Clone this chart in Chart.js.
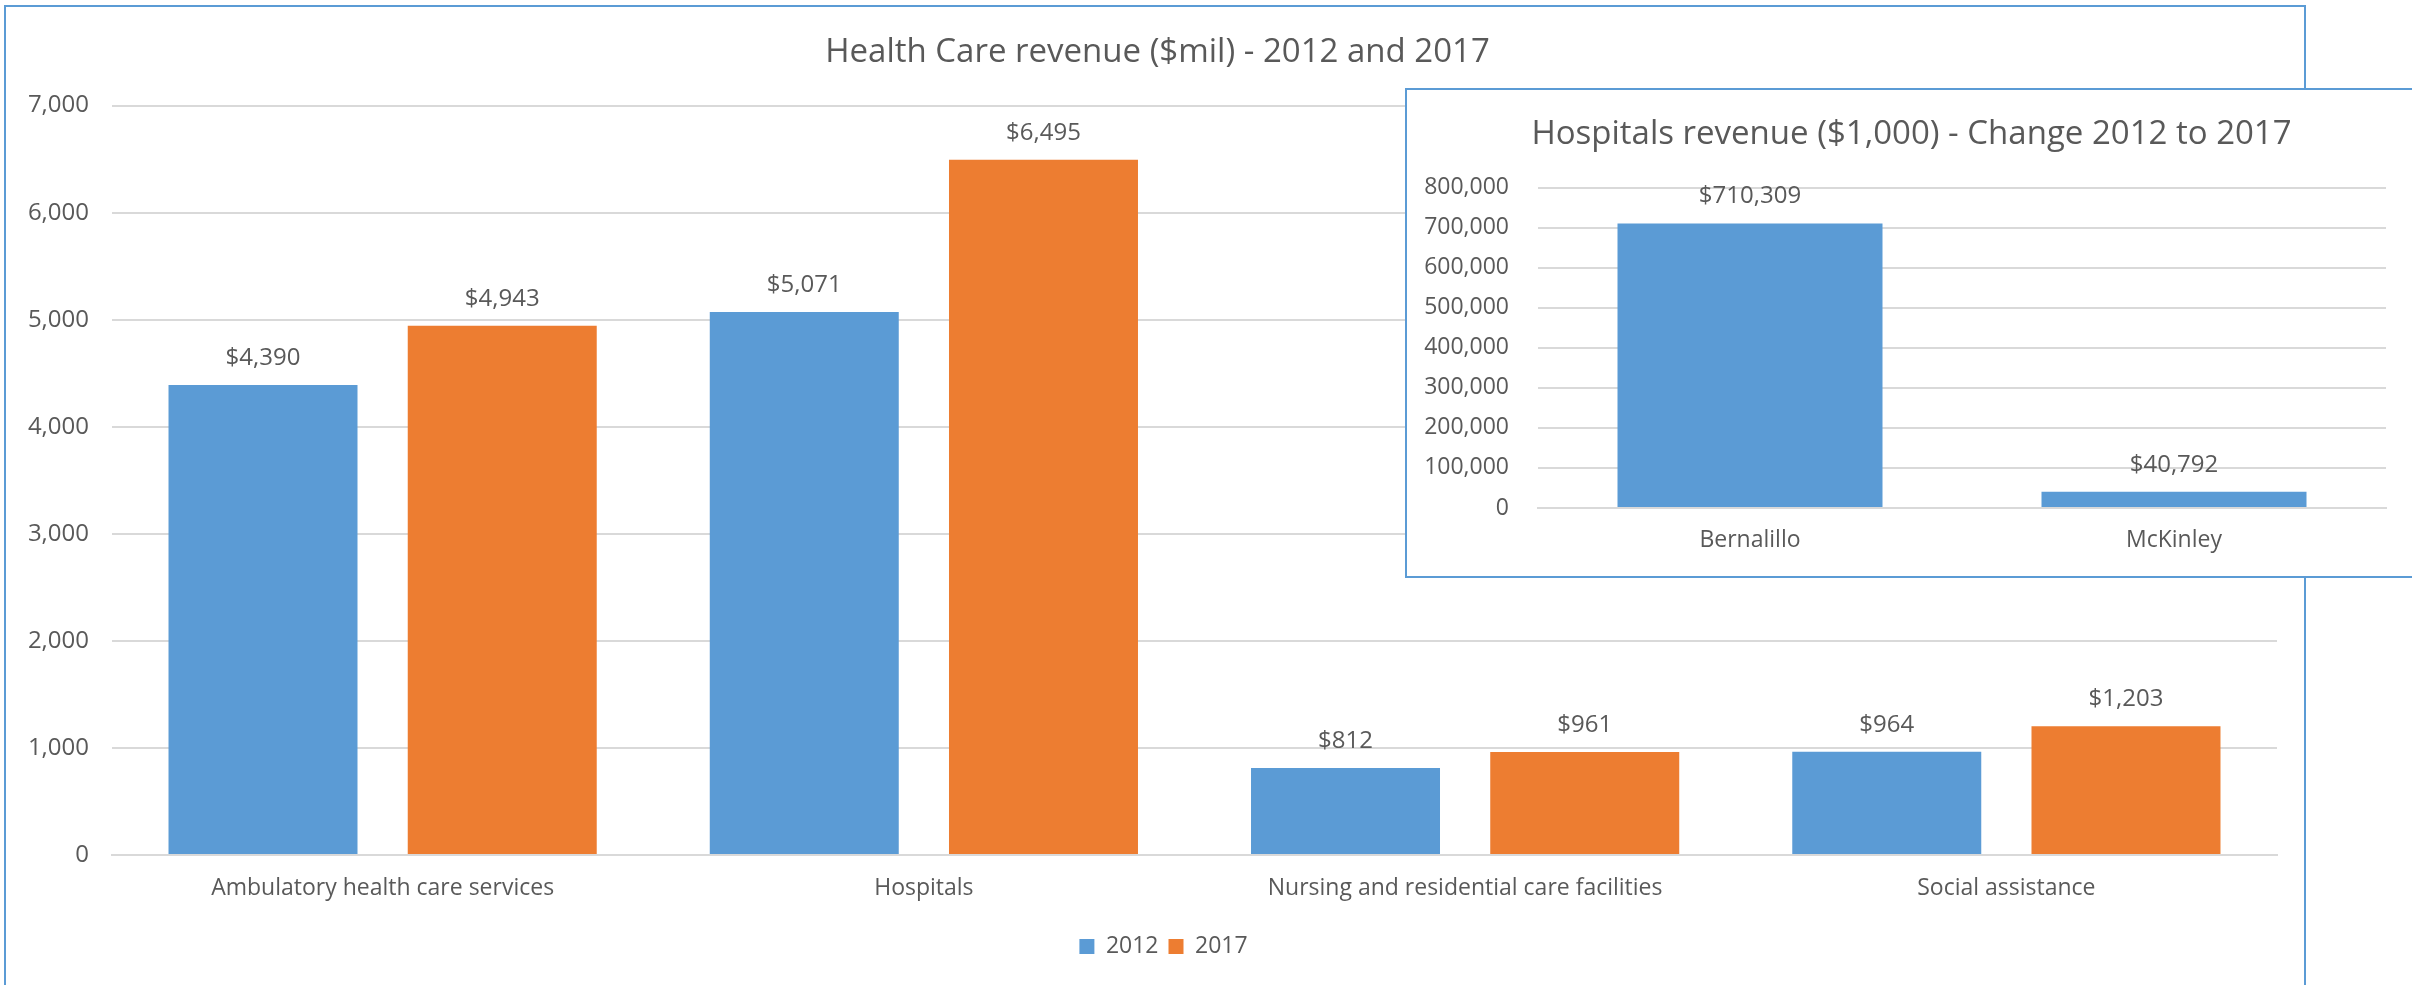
<!DOCTYPE html>
<html>
<head>
<meta charset="utf-8">
<script src="https://cdn.jsdelivr.net/npm/chart.js@4.4.1/dist/chart.umd.min.js"></script>
<style>
  html, body { margin: 0; padding: 0; background: #fff; overflow: hidden; }
  body { width: 2412px; height: 985px; position: relative; }
  #main { position: absolute; left: 4px; top: 5px; width: 2302px; height: 1000px; border: 2px solid #5b9bd5; box-sizing: border-box; }
  #inset { position: absolute; left: 1405px; top: 88px; width: 1020px; height: 490px; border: 2px solid #5b9bd5; background: #fff; box-sizing: border-box; }
  canvas { display: block; }
</style>
</head>
<body>
<div id="main"><canvas id="mainChart" width="2298" height="980"></canvas></div>
<div id="inset"><canvas id="insetChart" width="1016" height="486"></canvas></div>
<script>
const categories = ["Ambulatory health care services", "Hospitals", "Nursing and residential care facilities", "Social assistance"];
const revenue2012 = [4390, 5071, 812, 964];
const revenue2017 = [4943, 6495, 961, 1203];
const mainTicks = [0, 1000, 2000, 3000, 4000, 5000, 6000, 7000];

const counties = ["Bernalillo", "McKinley"];
const hospitalChange = [710309, 40792];
const insetTicks = [0, 100000, 200000, 300000, 400000, 500000, 600000, 700000, 800000];

const blue = "#5b9bd5";
const orange = "#ed7d31";
const textGrey = "#595959";
const gridGrey = "#d9d9d9";
const fontFamily = "'Open Sans', 'Liberation Sans', sans-serif";

Chart.defaults.font.family = fontFamily;
Chart.defaults.color = textGrey;

// draws "$1,234" above each bar
const valueLabels = {
  id: "valueLabels",
  afterDatasetsDraw(chart, args, opts) {
    const ctx = chart.ctx;
    ctx.save();
    ctx.font = opts.size + "px " + fontFamily;
    ctx.fillStyle = textGrey;
    ctx.textAlign = "center";
    ctx.textBaseline = "middle";
    chart.data.datasets.forEach((ds, i) => {
      chart.getDatasetMeta(i).data.forEach((bar, j) => {
        ctx.fillText("$" + ds.data[j].toLocaleString("en-US"), bar.x, bar.y - 27);
      });
    });
    ctx.restore();
  }
};

// nudges title / legend sideways so they sit centred like the original
const nudge = {
  id: "nudge",
  afterLayout(chart, args, opts) {
    if (opts.title && chart.titleBlock) {
      chart.titleBlock.left += opts.title;
      chart.titleBlock.right += opts.title;
    }
    if (opts.legend && chart.legend) {
      chart.legend.left += opts.legend;
      chart.legend.right += opts.legend;
    }
  }
};

function yScale(ticks, width, pad, size) {
  return {
    min: ticks[0],
    max: ticks[ticks.length - 1],
    afterFit: s => { s.width = width; },
    afterBuildTicks: s => { s.ticks = ticks.map(v => ({ value: v })); },
    ticks: {
      padding: pad,
      font: { size: size },
      color: textGrey,
      callback: v => v.toLocaleString("en-US")
    },
    grid: { color: gridGrey, lineWidth: 2, drawTicks: false },
    border: { display: false }
  };
}

new Chart(document.getElementById("mainChart"), {
  type: "bar",
  data: {
    labels: categories,
    datasets: [
      { label: "2012", data: revenue2012, backgroundColor: blue },
      { label: "2017", data: revenue2017, backgroundColor: orange }
    ]
  },
  options: {
    responsive: false,
    animation: false,
    categoryPercentage: 0.884,
    barPercentage: 0.79,
    layout: { padding: { left: 0, right: 27, top: 0, bottom: 19 } },
    plugins: {
      title: {
        display: true,
        text: "Health Care revenue ($mil) - 2012 and 2017",
        font: { size: 33, weight: "normal" },
        color: textGrey,
        padding: { top: 26, bottom: 33 }
      },
      legend: {
        position: "bottom",
        labels: { boxWidth: 15, boxHeight: 15, font: { size: 23 }, color: textGrey, padding: 10 }
      },
      tooltip: { enabled: false },
      valueLabels: { size: 24 },
      nudge: { title: 16, legend: 22 }
    },
    scales: {
      x: {
        afterFit: s => { s.height = 70; },
        ticks: { padding: 20, font: { size: 23 }, color: textGrey },
        grid: { display: false, drawTicks: false },
        border: { color: gridGrey, width: 2 }
      },
      y: yScale(mainTicks, 106, 23, 24)
    }
  },
  plugins: [valueLabels, nudge]
});

new Chart(document.getElementById("insetChart"), {
  type: "bar",
  data: {
    labels: counties,
    datasets: [
      { label: "Change", data: hospitalChange, backgroundColor: blue }
    ]
  },
  options: {
    responsive: false,
    animation: false,
    categoryPercentage: 0.625,
    barPercentage: 1,
    layout: { padding: { left: 0, right: 37, top: 0, bottom: 0 } },
    plugins: {
      title: {
        display: true,
        text: "Hospitals revenue ($1,000) - Change 2012 to 2017",
        font: { size: 33, weight: "normal" },
        color: textGrey,
        padding: { top: 25, bottom: 33 }
      },
      legend: { display: false },
      tooltip: { enabled: false },
      valueLabels: { size: 24 },
      nudge: { title: 15 }
    },
    scales: {
      x: {
        afterFit: s => { s.height = 68; },
        ticks: { padding: 19, font: { size: 23 }, color: textGrey },
        grid: { display: false, drawTicks: false },
        border: { color: gridGrey, width: 2 }
      },
      y: yScale(insetTicks, 131, 29, 23)
    }
  },
  plugins: [valueLabels, nudge]
});
</script>
</body>
</html>
